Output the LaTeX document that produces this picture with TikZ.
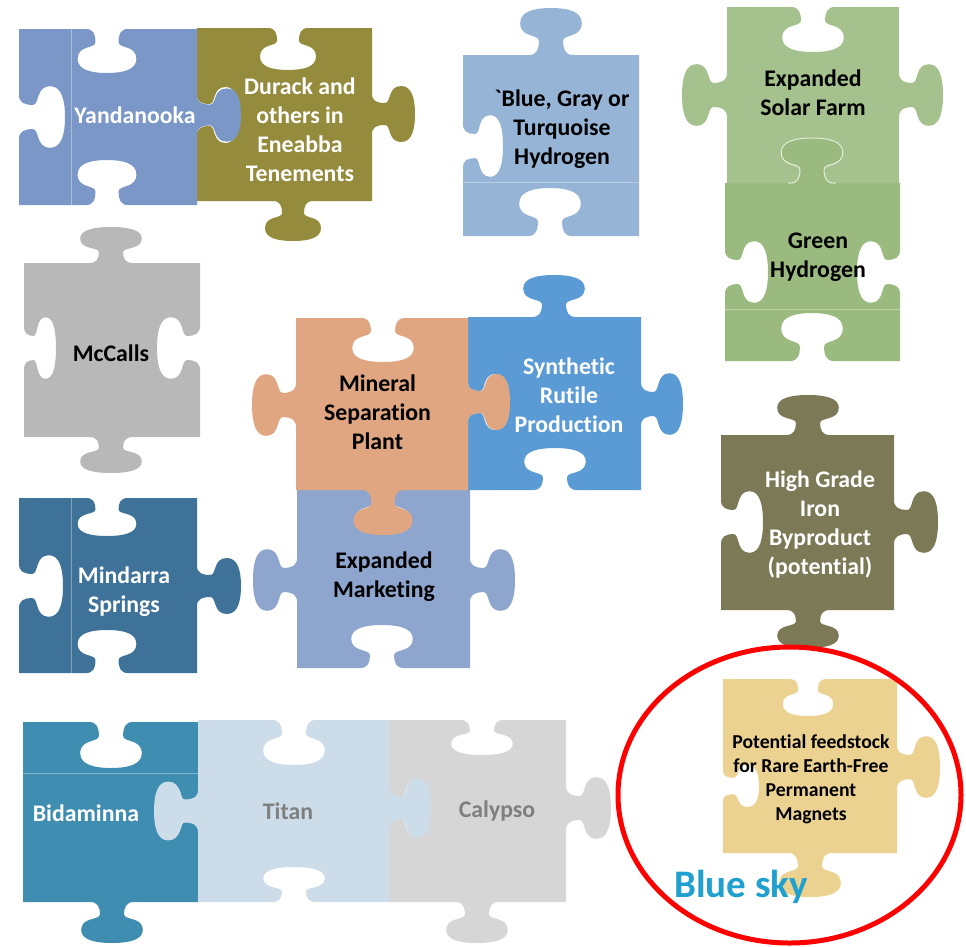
\documentclass[tikz,border=0pt]{standalone}
\usepackage{fontspec}
\setmainfont{Carlito}[Ligatures=NoCommon]
\newfontfamily\rawfont{Carlito}[Ligatures={TeXOff,NoCommon}]

% ---------- puzzle piece construction (pgf basic layer, y grows downward) ----------
% knob spec: sign/centre/depth/width-scale   (sign: 1 tab, -1 slot, 0 flat)
\def\pzsplit#1/#2/#3/#4\relax{\def\pzs{#1}\def\pzc{#2}\def\pzd{#3}\def\pzk{#4}}
\newcommand\pzP[2]{\pgfpoint{\kcx+(#1)*\pzk*\kdx+(#2)*\knx}{0-(\kcy+(#1)*\pzk*\kdy+(#2)*\kny)}}
% #1,#2 knob centre on the edge, #3,#4 travel direction, #5,#6 outward normal
\newcommand\pzside[6]{%
  \ifnum\pzs=0\relax\else
    \def\kcx{#1}\def\kcy{#2}\def\kdx{(#3)}\def\kdy{(#4)}%
    \pgfmathsetmacro\knx{\pzs*\pzd*(#5)}%
    \pgfmathsetmacro\kny{\pzs*\pzd*(#6)}%
    \pgfpathlineto{\pzP{-20}{0}}%
    \pgfpathcurveto{\pzP{-13}{0}}{\pzP{-11}{0.12}}{\pzP{-11}{0.3}}%
    \pgfpathcurveto{\pzP{-11}{0.45}}{\pzP{-28}{0.36}}{\pzP{-28}{0.68}}%
    \pgfpathcurveto{\pzP{-28}{0.93}}{\pzP{-15}{1}}{\pzP{0}{1}}%
    \pgfpathcurveto{\pzP{15}{1}}{\pzP{28}{0.93}}{\pzP{28}{0.68}}%
    \pgfpathcurveto{\pzP{28}{0.36}}{\pzP{11}{0.45}}{\pzP{11}{0.3}}%
    \pgfpathcurveto{\pzP{11}{0.12}}{\pzP{13}{0}}{\pzP{20}{0}}%
  \fi}
% \piece{colour}{x0}{y0}{x1}{y1}{top}{right}{bottom}{left}
\newcommand\piece[9]{%
  \begin{pgfscope}
  \pgfsetfillcolor{#1}%
  \pgfpathmoveto{\pgfpoint{#2}{0-(#3)}}%
  \pzsplit#6\relax\pzside{\pzc}{#3}{1}{0}{0}{-1}%
  \pgfpathlineto{\pgfpoint{#4}{0-(#3)}}%
  \pzsplit#7\relax\pzside{#4}{\pzc}{0}{1}{1}{0}%
  \pgfpathlineto{\pgfpoint{#4}{0-(#5)}}%
  \pzsplit#8\relax\pzside{\pzc}{#5}{-1}{0}{0}{1}%
  \pgfpathlineto{\pgfpoint{#2}{0-(#5)}}%
  \pzsplit#9\relax\pzside{#2}{\pzc}{0}{-1}{-1}{0}%
  \pgfpathclose
  \pgfusepath{fill}%
  \end{pgfscope}}
% light rim along a single upward knob: {x}{y}{spec}
\newcommand\knobrim[3]{%
  \begin{pgfscope}
  \pgfsetstrokecolor{white}\pgfsetstrokeopacity{0.7}\pgfsetlinewidth{1pt}%
  \pzsplit#3\relax
  \pgfpathmoveto{\pgfpoint{\pzc-24}{0-(#2)}}%
  \pzside{\pzc}{#2}{1}{0}{0}{-1}%
  \pgfpathlineto{\pgfpoint{\pzc+24}{0-(#2)}}%
  \pgfusepath{stroke}%
  \end{pgfscope}}

\definecolor{cYand}{HTML}{7A97C7}
\definecolor{cDurack}{HTML}{958B3D}
\definecolor{cBGT}{HTML}{95B4D6}
\definecolor{cSolar}{HTML}{A4C18E}
\definecolor{cGreenH}{HTML}{9BBA7F}
\definecolor{cMcCalls}{HTML}{B8B8B8}
\definecolor{cMineral}{HTML}{E0A681}
\definecolor{cSynth}{HTML}{5B9BD5}
\definecolor{cMarket}{HTML}{8EA5CE}
\definecolor{cMindarra}{HTML}{3F7299}
\definecolor{cIron}{HTML}{7C7957}
\definecolor{cPotential}{HTML}{ECD290}
\definecolor{cBida}{HTML}{3F8DB1}
\definecolor{cTitan}{HTML}{CCDCE8}
\definecolor{cCalypso}{HTML}{D6D6D6}
\definecolor{cSky}{HTML}{1FA0CF}
\definecolor{cGreyText}{HTML}{7F7F7F}

\tikzset{
  lbl/.style={font=\bfseries\fontsize{23.8}{29}\selectfont, align=center, inner sep=0pt},
  smalllbl/.style={font=\bfseries\fontsize{19.7}{24}\selectfont, align=center, inner sep=0pt},
  seam/.style={draw=white, draw opacity=0.35, line width=0.9pt},
}

\begin{document}
\begin{tikzpicture}[x=1pt,y=-1pt]
\useasboundingbox (0,0) rectangle (966,946);
\fill[white] (0,0) rectangle (966,946);

% top-left pair
\piece{cDurack}{197}{28}{372}{201}{-1/288/42/1}{1/114/43/1}{1/293/40/1}{-1/115/42/1}
\piece{cYand}{19}{29}{197}{205}{-1/107/44/1.05}{1/115/44/0.95}{-1/107/45/1.05}{-1/117/46/1.1}
\draw[seam] (71,29) -- (71,205);

% hydrogen pieces
\piece{cBGT}{463}{55}{639}{236}{1/551/47/1.1}{0/0/0/1}{-1/550/48/1.1}{-1/146/40/1.1}
\draw[seam] (463,182) -- (639,182);
\piece{cSolar}{727}{7}{899}{183}{-1/813/45/1.1}{1/95/44/1.1}{-1/812/44/1.1}{1/95/45/1.1}
\piece{cGreenH}{725}{183}{900}{361}{1/812/45/1.1}{-1/272/43/1.1}{-1/812/48/1.1}{-1/272/43/1.1}
\knobrim{812}{183}{1/812/45/1.1}
\draw[seam] (725,309) -- (900,309);

% left column
\piece{cMcCalls}{24}{263}{200}{437}{1/111/36/1.1}{-1/348/43/1.1}{1/111/36/1.1}{-1/348/32/1.1}
\piece{cMindarra}{19}{498}{197}{673}{-1/107/38/1.05}{1/586/44/1}{-1/107/43/1.05}{-1/586/44/1.1}
\draw[seam] (71,498) -- (71,673);

% centre cluster
\piece{cSynth}{468}{317}{641}{490}{1/554/42/1.1}{1/404/42/1.1}{-1/555/42/1.1}{-1/402/40/1}
\piece{cMarket}{297}{490}{470}{668}{-1/383/43/1}{1/580/45/1.1}{-1/382/43/1.1}{1/580/44/1.1}
\piece{cMineral}{296}{318}{468}{490}{-1/383/44/1.1}{1/402/42/1}{1/383/45/1.05}{1/405/44/1.1}

% right column
\piece{cIron}{721}{435}{894}{610}{1/808/40/1.1}{1/522/44/1.1}{1/808/38/1.1}{-1/522/42/1.1}
\piece{cPotential}{723}{679}{897}{853}{-1/808/37/0.9}{1/767/43/1.1}{1/810/44/1.1}{-1/786/36/0.75}

% bottom row
\piece{cBida}{23}{722}{198}{902}{-1/111/46/1.1}{-1/811/42/1}{1/112/41/1.1}{0/0/0/1}
\draw[seam] (23,773) -- (198,773);
\piece{cCalypso}{389}{720}{566}{902}{-1/482/35/1.1}{1/808/45/1.1}{1/477/41/1.1}{-1/808/40/1}
\piece{cTitan}{198}{720}{389}{902}{-1/294/45/1.1}{1/808/42/1.05}{-1/294/35/1.1}{1/811/44/1.05}

% labels
\node[lbl, text=white] (yand) at (135,115) {Yandanooka};
\node[lbl, text=white] (durack) at (300,129.5) {Durack and\\others in\\Eneabba\\Tenements};
\node[lbl, text=black] (bgt) at (562,129) {{\rawfont\bfseries`}Blue, Gray or\\Turquoise\\Hydrogen};
\node[lbl, text=black] (solar) at (813,93) {Expanded\\Solar Farm};
\node[lbl, text=black] (greenh) at (818,257) {Green\\Hydrogen};
\node[lbl, text=black] (mccalls) at (111,353) {McCalls};
\node[lbl, text=black] (mineral) at (377.5,412) {Mineral\\Separation\\Plant};
\node[lbl, text=white] (synth) at (569,395) {Synthetic\\Rutile\\Production};
\node[lbl, text=black] (market) at (384,577) {Expanded\\Marketing};
\node[lbl, text=white] (mindarra) at (124,592) {Mindarra\\Springs};
\node[lbl, text=white] (iron) at (820,525) {High Grade\\Iron\\Byproduct\\(potential)};
\node[lbl, text=white] (bida) at (86,813) {Bidaminna};
\node[lbl, text=cGreyText] (titan) at (288,811) {Titan};
\node[lbl, text=cGreyText] (calypso) at (497,811) {Calypso};
\node[smalllbl, text=black] (potential) at (811,779) {Potential feedstock\\for Rare Earth-Free\\Permanent\\Magnets};

% blue-sky highlight
\draw[red, line width=5pt] (789.5,795) ellipse [x radius=171.5pt, y radius=148pt];
\node[font=\bfseries\fontsize{39}{46}\selectfont, text=cSky, inner sep=0pt, anchor=west] (bluesky) at (674,887) {Blue sky};
\end{tikzpicture}
\end{document}
